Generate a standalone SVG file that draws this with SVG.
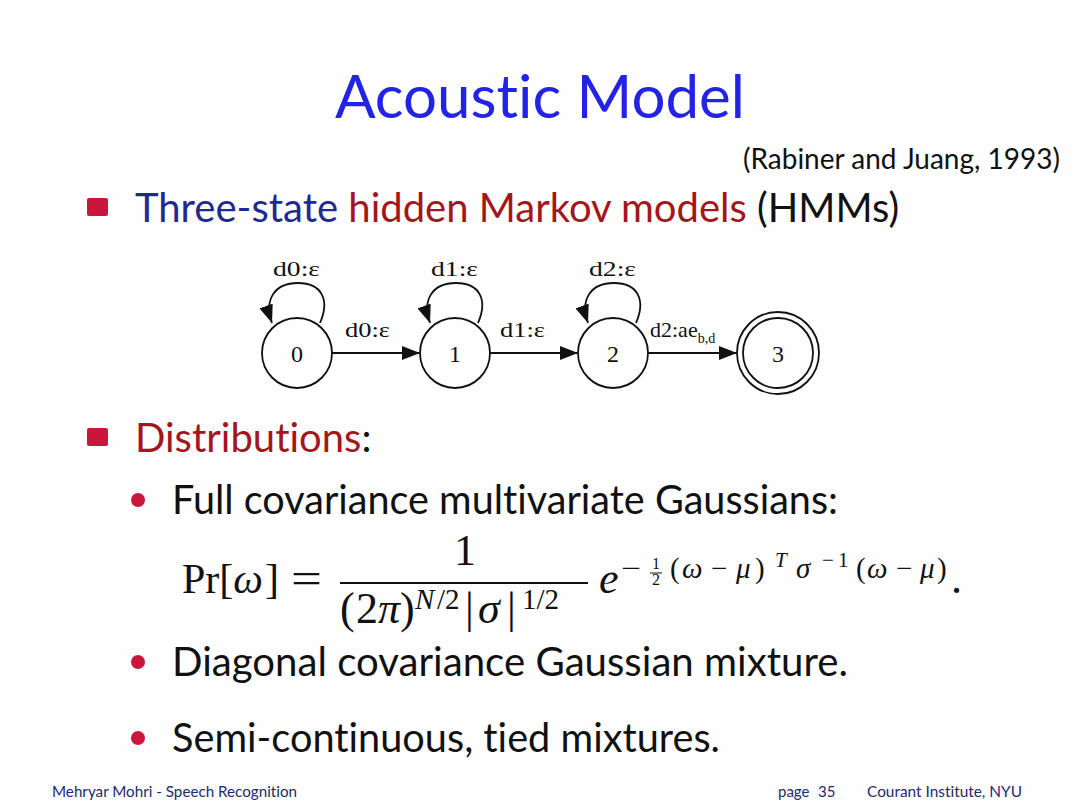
<svg xmlns="http://www.w3.org/2000/svg" width="1080" height="809" viewBox="0 0 1080 809">
<style>
.sans{font-family:Lato,"Open Sans","DejaVu Sans",sans-serif;font-variant-ligatures:none;font-feature-settings:"liga" 0,"clig" 0}
.node{fill:none;stroke:#111;stroke-width:1.8}
.edge{fill:none;stroke:#111;stroke-width:1.8}
.lbl{font-family:"Liberation Serif","DejaVu Serif",serif;font-size:22px;fill:#111}
.nlbl{font-family:"Liberation Serif","DejaVu Serif",serif;font-size:24px;fill:#111;text-anchor:middle}
.math{font-family:"Liberation Serif","DejaVu Serif",serif;fill:#111}
.it{font-style:italic}
</style>
<defs>
<marker id="arr" viewBox="0 0 18 14" refX="18" refY="7" markerWidth="18" markerHeight="14" markerUnits="userSpaceOnUse" orient="auto">
<path d="M0,0 L18,7 L0,14 Z" fill="#111"/>
</marker>
</defs>
<rect width="1080" height="809" fill="#fefefe"/>
<g id="title">
<text x="335" y="118" class="sans" font-size="60" fill="#2323e6" textLength="410" lengthAdjust="spacingAndGlyphs">Acoustic Model</text>
<text x="1060" y="169" text-anchor="end" class="sans" font-size="28" fill="#111">(Rabiner and Juang, 1993)</text>
</g>
<g id="bullet1">
<rect x="87" y="198" width="21" height="18" rx="2" fill="#c8173a"/>
<text x="135" y="222" class="sans" font-size="40"><tspan fill="#1e2a8c">Three-state </tspan><tspan fill="#a3161c">hidden Markov models</tspan><tspan fill="#111"> (HMMs)</tspan></text>
</g>
<g id="connectors">
<path class="edge" d="M332,353 L420,353" marker-end="url(#arr)"/>
<path class="edge" d="M490,353 L578,353" marker-end="url(#arr)"/>
<path class="edge" d="M648,353 L737,353" marker-end="url(#arr)"/>
<path class="edge" d="M320,323 C330,300 322,283 298,283 C274,283 264,300 272,323" marker-end="url(#arr)"/>
<path class="edge" d="M478,323 C488,300 480,283 456,283 C432,283 422,300 430,323" marker-end="url(#arr)"/>
<path class="edge" d="M636,323 C646,300 638,283 614,283 C590,283 580,300 588,323" marker-end="url(#arr)"/>
<text x="345" y="337" class="lbl" textLength="45" lengthAdjust="spacingAndGlyphs">d0:ε</text>
<text x="500" y="337" class="lbl" textLength="45" lengthAdjust="spacingAndGlyphs">d1:ε</text>
<text x="650" y="337" class="lbl">d2:ae<tspan font-size="14" dy="6">b,d</tspan></text>
<text x="273" y="276" class="lbl" textLength="47" lengthAdjust="spacingAndGlyphs">d0:ε</text>
<text x="431" y="276" class="lbl" textLength="47" lengthAdjust="spacingAndGlyphs">d1:ε</text>
<text x="589" y="276" class="lbl" textLength="47" lengthAdjust="spacingAndGlyphs">d2:ε</text>
</g>
<g id="node0">
<circle cx="297" cy="353" r="35" class="node" stroke-width="3.2"/>
<text x="297" y="362" class="nlbl">0</text>
</g>
<g id="node1">
<circle cx="455" cy="353" r="35" class="node"/>
<text x="455" y="362" class="nlbl">1</text>
</g>
<g id="node2">
<circle cx="613" cy="353" r="35" class="node"/>
<text x="613" y="362" class="nlbl">2</text>
</g>
<g id="node3">
<circle cx="778" cy="353" r="41" class="node"/>
<circle cx="778" cy="353" r="35" class="node"/>
<text x="778" y="362" class="nlbl">3</text>
</g>
<g id="bullet2">
<rect x="87" y="428" width="21" height="18" rx="2" fill="#c8173a"/>
<text x="135" y="452" class="sans" font-size="40"><tspan fill="#a3161c">Distributions</tspan><tspan fill="#111">:</tspan></text>
</g>
<g id="sub1">
<circle cx="138" cy="500" r="7" fill="#c8173a"/>
<text x="172" y="514" class="sans" font-size="40" fill="#111" textLength="666" lengthAdjust="spacingAndGlyphs">Full covariance multivariate Gaussians:</text>
</g>
<g id="formula" class="math">
<text x="182" y="593" font-size="42">Pr[<tspan class="it">ω</tspan><tspan dx="2">]</tspan></text>
<text x="291" y="593" font-size="44" textLength="31" lengthAdjust="spacingAndGlyphs">=</text>
<text x="465" y="565" font-size="44" text-anchor="middle">1</text>
<line x1="340" y1="583" x2="588" y2="583" stroke="#111" stroke-width="1.8"/>
<text y="623" font-size="44"><tspan x="340">(</tspan><tspan x="356">2</tspan><tspan x="378" class="it">π</tspan><tspan x="400">)</tspan></text>
<text y="609" font-size="29"><tspan x="415" class="it">N</tspan><tspan x="437">/2</tspan></text>
<text y="623" font-size="44"><tspan x="465">|</tspan><tspan x="478" class="it">σ</tspan><tspan x="507">|</tspan></text>
<text y="609" font-size="29"><tspan x="522">1/2</tspan></text>
<text x="599" y="593" font-size="44" class="it">e</text>
<text x="621" y="578" font-size="29" textLength="20" lengthAdjust="spacingAndGlyphs">−</text>
<text x="656" y="569" font-size="16" text-anchor="middle">1</text>
<line x1="650" y1="573" x2="662" y2="573" stroke="#111" stroke-width="1"/>
<text x="656" y="585" font-size="16" text-anchor="middle">2</text>
<text y="578" font-size="29"><tspan x="670">(</tspan><tspan x="682" class="it">ω</tspan><tspan x="711">−</tspan><tspan x="736" class="it">μ</tspan><tspan x="755">)</tspan></text>
<text x="775" y="567" font-size="21" class="it">T</text>
<text x="796" y="578" font-size="29" class="it">σ</text>
<text y="567" font-size="21"><tspan x="822">−</tspan><tspan x="838">1</tspan></text>
<text y="578" font-size="29"><tspan x="856">(</tspan><tspan x="867" class="it">ω</tspan><tspan x="896">−</tspan><tspan x="920" class="it">μ</tspan><tspan x="937">)</tspan></text>
<text x="951" y="593" font-size="44">.</text>
</g>
<g id="sub2">
<circle cx="138" cy="662" r="7" fill="#c8173a"/>
<text x="172" y="676" class="sans" font-size="40" fill="#111" textLength="676" lengthAdjust="spacingAndGlyphs">Diagonal covariance Gaussian mixture.</text>
</g>
<g id="sub3">
<circle cx="138" cy="738" r="7" fill="#c8173a"/>
<text x="172" y="752" class="sans" font-size="40" fill="#111" textLength="548" lengthAdjust="spacingAndGlyphs">Semi-continuous, tied mixtures.</text>
</g>
<g id="footer" class="sans" font-size="15" fill="#1e2a6c">
<text x="52" y="797" textLength="245" lengthAdjust="spacingAndGlyphs">Mehryar Mohri - Speech Recognition</text>
<text x="778" y="797">page</text>
<text x="818" y="797">35</text>
<text x="867" y="797" textLength="155" lengthAdjust="spacingAndGlyphs">Courant Institute, NYU</text>
</g>
</svg>
